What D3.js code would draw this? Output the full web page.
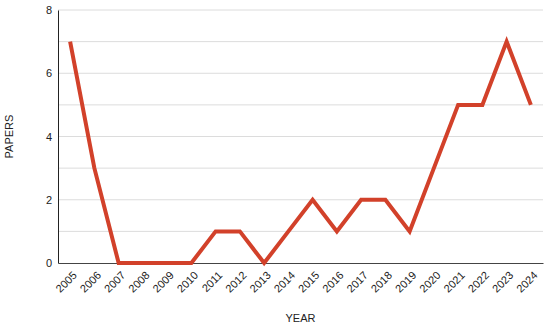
<!DOCTYPE html>
<html>
<head>
<meta charset="utf-8">
<script src="https://cdn.jsdelivr.net/npm/d3@7"></script>
<style>
  body { margin: 0; background: #fff; }
  text { font-family: "Liberation Sans", Arial, sans-serif; }
</style>
</head>
<body>
<div id="chart"></div>
<script>
// data
var years = ["2005", "2006", "2007", "2008", "2009", "2010", "2011", "2012", "2013", "2014",
  "2015", "2016", "2017", "2018", "2019", "2020", "2021", "2022", "2023", "2024"];
var papers = [7, 3, 0, 0, 0, 0, 1, 1, 0, 1, 2, 1, 2, 2, 1, 3, 5, 5, 7, 5];
var yTicks = [0, 2, 4, 6, 8];
var gridValues = [1, 2, 3, 4, 5, 6, 7, 8];

var svgWidth = 550;
var svgHeight = 326;

var margin = { top: 10, right: 7, bottom: 63, left: 58 };
var width = svgWidth - margin.left - margin.right;
var height = svgHeight - margin.top - margin.bottom;

var svg = d3.select("#chart")
  .append("svg")
  .attr("width", svgWidth)
  .attr("height", svgHeight);

var chartGroup = svg.append("g")
  .attr("transform", `translate(${margin.left}, ${margin.top})`);

var xScale = d3.scalePoint()
  .domain(years)
  .range([0, width])
  .padding(0.5);

var yScale = d3.scaleLinear()
  .domain([0, 8])
  .range([height, 0]);

// gridlines
chartGroup.append("g")
  .selectAll("line")
  .data(gridValues)
  .enter()
  .append("line")
  .attr("x1", 0)
  .attr("x2", width)
  .attr("y1", d => yScale(d))
  .attr("y2", d => yScale(d))
  .attr("stroke", "#dcdcdc")
  .attr("stroke-width", 1);

// y axis
var leftAxis = d3.axisLeft(yScale)
  .tickValues(yTicks)
  .tickSize(0)
  .tickPadding(6);

var yAxis = chartGroup.append("g").call(leftAxis);
yAxis.select(".domain").attr("stroke", "#222");
yAxis.selectAll("text")
  .attr("font-size", "11px")
  .attr("fill", "#222")
  .style("font-family", "'Liberation Sans', Arial, sans-serif");

// x axis
var bottomAxis = d3.axisBottom(xScale).tickSize(0).tickPadding(0);

var xAxis = chartGroup.append("g")
  .attr("transform", `translate(0, ${height})`)
  .call(bottomAxis);
xAxis.select(".domain").attr("stroke", "#444");
xAxis.selectAll("text")
  .attr("font-size", "11px")
  .attr("fill", "#222")
  .style("font-family", "'Liberation Sans', Arial, sans-serif")
  .attr("text-anchor", "end")
  .attr("dy", null)
  .attr("y", 0)
  .attr("transform", "translate(7, 13) rotate(-45)");

// line
var line = d3.line()
  .x((d, i) => xScale(years[i]))
  .y(d => yScale(d));

chartGroup.append("path")
  .datum(papers)
  .attr("d", line)
  .attr("fill", "none")
  .attr("stroke", "#d2412a")
  .attr("stroke-width", 4)
  .attr("stroke-linejoin", "miter");

// axis titles
svg.append("text")
  .attr("x", margin.left + width / 2)
  .attr("y", 322)
  .attr("text-anchor", "middle")
  .attr("font-size", "11px")
  .attr("fill", "#222")
  .text("YEAR");

svg.append("text")
  .attr("transform", `translate(13, ${margin.top + height / 2}) rotate(-90)`)
  .attr("text-anchor", "middle")
  .attr("font-size", "11px")
  .attr("fill", "#222")
  .text("PAPERS");
</script>
</body>
</html>
